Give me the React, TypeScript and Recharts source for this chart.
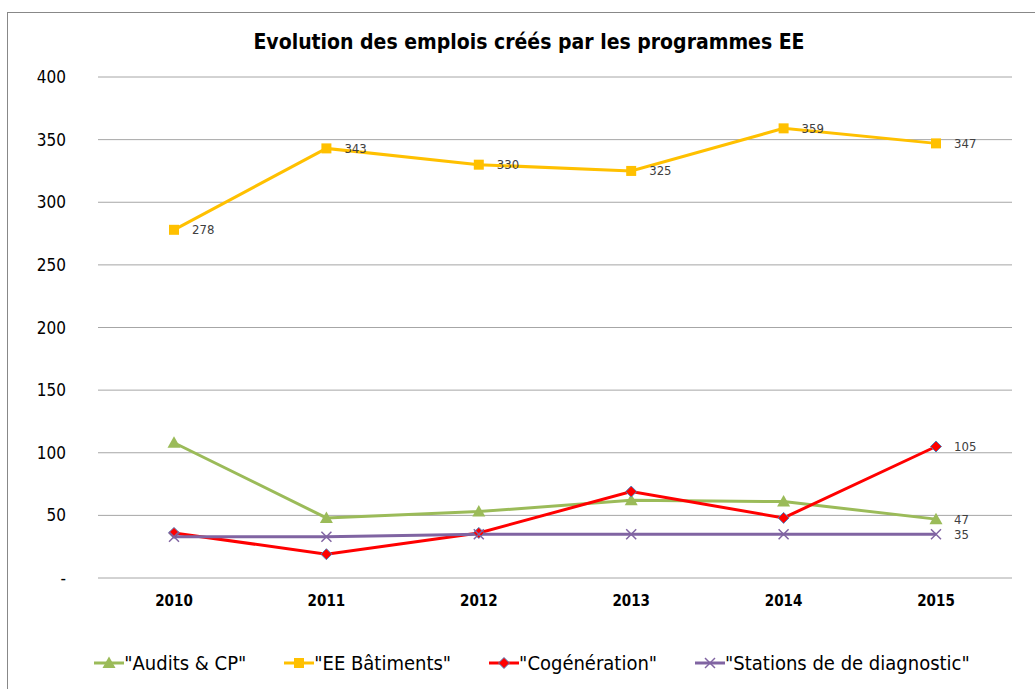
import React from 'react';
import {
  LineChart,
  Line,
  XAxis,
  YAxis,
  CartesianGrid,
  Legend,
  LabelList,
} from 'recharts';

const years = ['2010', '2011', '2012', '2013', '2014', '2015'];
const audits = [108, 48, 53, 62, 61, 47];
const batiments = [278, 343, 330, 325, 359, 347];
const cogeneration = [36, 19, 36, 69, 48, 105];
const stations = [33, 33, 35, 35, 35, 35];
const yTicks = [0, 50, 100, 150, 200, 250, 300, 350, 400];

const data = years.map((year, i) => ({
  year,
  audits: audits[i],
  batiments: batiments[i],
  cogeneration: cogeneration[i],
  stations: stations[i],
}));

const FONT = '"Liberation Sans Narrow", "DejaVu Sans Condensed", "Liberation Sans", sans-serif';

const series = [
  { key: 'audits', name: '"Audits & CP"', color: '#9BBB59', shape: 'triangle' },
  { key: 'batiments', name: '"EE Bâtiments"', color: '#FFC000', shape: 'square' },
  { key: 'cogeneration', name: '"Cogénération"', color: '#FF0000', shape: 'diamond' },
  { key: 'stations', name: '"Stations de de diagnostic"', color: '#8064A2', shape: 'cross' },
];

const Marker = ({ cx, cy, shape, color }: any) => {
  if (cx == null || cy == null) return null;
  if (shape === 'triangle')
    return <polygon points={`${cx - 6.5},${cy + 5} ${cx + 6.5},${cy + 5} ${cx},${cy - 6.5}`} fill={color} />;
  if (shape === 'square')
    return <rect x={cx - 5} y={cy - 5} width={10} height={10} fill={color} />;
  if (shape === 'diamond')
    return (
      <polygon
        points={`${cx},${cy - 5.5} ${cx + 5.5},${cy} ${cx},${cy + 5.5} ${cx - 5.5},${cy}`}
        fill={color}
        stroke="#4F81BD"
        strokeWidth={1}
      />
    );
  return (
    <g stroke={color} strokeWidth={1.5}>
      <line x1={cx - 5} y1={cy - 5} x2={cx + 5} y2={cy + 5} />
      <line x1={cx - 5} y1={cy + 5} x2={cx + 5} y2={cy - 5} />
    </g>
  );
};

const makeLabel = (onlyLast: boolean) => (props: any) => {
  const { x, y, value, index } = props;
  if (onlyLast && index !== years.length - 1) return null;
  return (
    <text x={x + 18} y={y + 1} dominantBaseline="middle" fontSize={13} fill="#404040" fontFamily={FONT}>
      {value}
    </text>
  );
};

const LegendContent = () => (
  <div
    style={{
      display: 'flex',
      justifyContent: 'center',
      gap: 38,
      fontFamily: FONT,
      fontSize: 20,
      color: '#000',
      marginTop: 22,
      paddingLeft: 52,
    }}
  >
    {series.map((s) => (
      <div key={s.key} style={{ display: 'flex', alignItems: 'center' }}>
        <svg width={30} height={14}>
          <line x1={0} y1={7} x2={30} y2={7} stroke={s.color} strokeWidth={3} />
          <Marker cx={15} cy={7} shape={s.shape} color={s.color} />
        </svg>
        <span>{s.name}</span>
      </div>
    ))}
  </div>
);

const App: React.FC = () => {
  return (
    <div style={{ position: 'absolute', left: 0, top: 0, width: 1035, height: 689, background: '#fff', overflow: 'hidden' }}>
      <div style={{ position: 'absolute', left: 7, top: 12, width: 1040, height: 700, border: '1px solid #888' }} />
      <div
        style={{
          position: 'absolute',
          left: 0,
          top: 30,
          width: 1058,
          textAlign: 'center',
          fontFamily: FONT,
          fontWeight: 'bold',
          fontSize: 21,
          color: '#000',
        }}
      >
        Evolution des emplois créés par les programmes EE
      </div>
      <div style={{ position: 'absolute', left: 0, top: 0 }}>
        <LineChart width={1035} height={689} data={data} margin={{ top: 77, right: 23, bottom: 0, left: 0 }}>
          <CartesianGrid vertical={false} stroke="#A6A6A6" strokeWidth={1} />
          <XAxis
            dataKey="year"
            axisLine={false}
            tickLine={false}
            tickSize={0}
            tickMargin={17}
            height={51}
            padding={{ left: 76, right: 76 }}
            tick={{ fontFamily: FONT, fontSize: 15, fontWeight: 'bold', fill: '#000' }}
          />
          <YAxis
            domain={[0, 400]}
            ticks={yTicks}
            width={98}
            axisLine={false}
            tickLine={false}
            tickSize={0}
            tickMargin={32}
            tickFormatter={(v: number) => (v === 0 ? '-' : String(v))}
            tick={{ fontFamily: FONT, fontSize: 17, fill: '#000' }}
          />
          <Legend verticalAlign="bottom" height={60} content={<LegendContent />} />
          {series.map((s) => (
            <Line
              key={s.key}
              dataKey={s.key}
              name={s.name}
              stroke={s.color}
              strokeWidth={3}
              isAnimationActive={false}
              dot={(p: any) => <Marker key={`${s.key}-${p.index}`} cx={p.cx} cy={p.cy} shape={s.shape} color={s.color} />}
              activeDot={false}
            >
              <LabelList dataKey={s.key} content={makeLabel(s.key !== 'batiments')} />
            </Line>
          ))}
        </LineChart>
      </div>
    </div>
  );
};

export default App;
